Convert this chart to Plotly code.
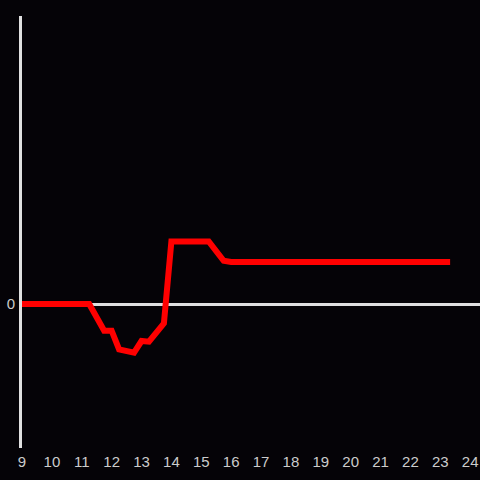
import plotly.graph_objects as go

hours = [9, 11.25, 11.75, 12.0, 12.25, 12.75, 13.0, 13.25, 13.75, 14.0, 15.25, 15.75, 16.0, 23.33]
values = [0, 0, -0.185, -0.185, -0.315, -0.338, -0.257, -0.262, -0.134, 0.434, 0.434, 0.30, 0.292, 0.292]
x_ticks = list(range(9, 25))
y_ticks = [0]

fig = go.Figure()
fig.add_trace(go.Scatter(x=hours, y=values, mode="lines",
                         line=dict(color="#ff0000", width=6), hoverinfo="skip"))

fig.update_layout(
    width=480, height=480,
    margin=dict(l=22, r=0, t=16, b=32),
    paper_bgcolor="#050307", plot_bgcolor="#050307",
    showlegend=False,
    font=dict(family="Liberation Sans, Arial, sans-serif", size=15, color="#cccccc"),
)
fig.update_xaxes(range=[9, 24.33], tickvals=x_ticks, showgrid=False, zeroline=False,
                 showline=False, ticks="", ticklabelstandoff=3,
                 tickfont=dict(color="#cccccc", size=15))
fig.update_yaxes(range=[-1, 2], tickvals=y_ticks, showgrid=False, zeroline=True,
                 zerolinecolor="#e0e0e0", zerolinewidth=3, showline=True,
                 linecolor="#e0e0e0", linewidth=3, ticks="", ticklabelstandoff=1,
                 tickfont=dict(color="#cccccc", size=15))

fig.write_html("out.html", config={"displayModeBar": False},
               post_script="document.body.style.margin='0';document.body.style.background='#050307';")
